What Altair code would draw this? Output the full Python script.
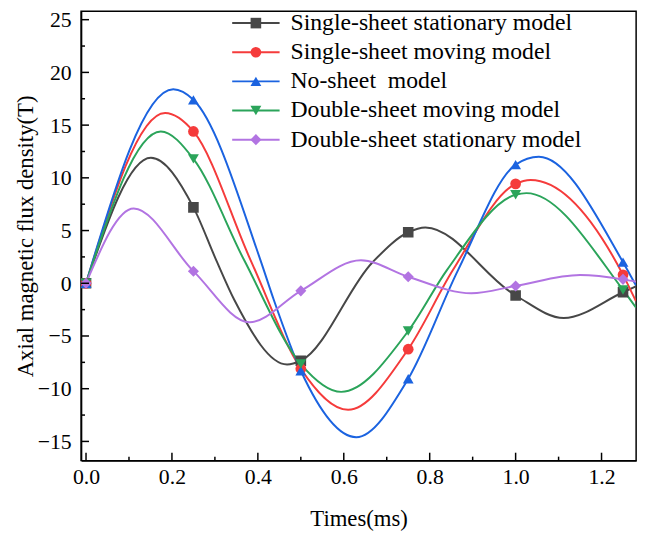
import altair as alt
import pandas as pd

FONT = "Liberation Serif"

names = ["Single-sheet stationary model", "Single-sheet moving model",
         "No-sheet\u00a0 model", "Double-sheet moving model",
         "Double-sheet stationary model"]
colors = ["#474747", "#f53b3b", "#1b63e0", "#2ba45a", "#b274e2"]
shapes = ["square", "circle", "triangle-up", "triangle-down", "diamond"]
sizes = [115, 125, 170, 170, 170]

# marker positions (ms) and values (T)
marker_t = [0, 0.25, 0.5, 0.75, 1.0, 1.25]
black_m = [0, 7.2, -7.35, 4.84, -1.16, -0.85]
red_m = [0, 14.4, -8.1, -6.25, 9.43, 0.8]
blue_m = [0, 17.4, -8.3, -9.06, 11.25, 2.0]
green_m = [0, 11.8, -7.66, -4.53, 8.4, -0.63]
purple_m = [0, 1.15, -0.72, 0.62, -0.25, 0.37]

# curve points (markers plus turning / crossing points)
black_t = [0, 0.151, 0.25, 0.303, 0.345, 0.468, 0.5, 0.667, 0.75, 0.79, 1.0, 1.112, 1.25, 1.28]
black_v = [0, 11.9, 7.2, 2.2, -1.56, -7.7, -7.35, 2.0, 4.84, 5.3, -1.16, -3.3, -0.85, -0.3]
red_t = [0, 0.184, 0.25, 0.383, 0.5, 0.61, 0.75, 0.854, 1.0, 1.035, 1.25, 1.28]
red_v = [0, 16.15, 14.4, 2.2, -8.1, -12.0, -6.25, 1.25, 9.43, 9.8, 0.8, -1.7]
blue_t = [0, 0.203, 0.25, 0.406, 0.437, 0.5, 0.629, 0.75, 0.866, 1.0, 1.054, 1.25, 1.28]
blue_v = [0, 18.4, 17.4, 2.2, -1.56, -8.3, -14.6, -9.06, 1.25, 11.25, 12.0, 2.0, -0.2]
green_t = [0, 0.174, 0.25, 0.368, 0.5, 0.594, 0.75, 0.84, 1.0, 1.025, 1.25, 1.28]
green_v = [0, 14.4, 11.8, 2.2, -7.66, -10.3, -4.53, 1.25, 8.4, 8.55, -0.63, -2.3]
purple_t = [0, 0.111, 0.25, 0.381, 0.5, 0.64, 0.75, 0.897, 1.0, 1.15, 1.25, 1.28]
purple_v = [0, 7.1, 1.15, -3.7, -0.72, 2.18, 0.62, -0.95, -0.25, 0.78, 0.37, 0.15]

x_major = [0, 0.2, 0.4, 0.6, 0.8, 1.0, 1.2]
x_minor = [0.1, 0.3, 0.5, 0.7, 0.9, 1.1]
y_major = [-15, -10, -5, 0, 5, 10, 15, 20, 25]
y_minor = [-12.5, -7.5, -2.5, 2.5, 7.5, 12.5, 17.5, 22.5]

curves = [(black_t, black_v), (red_t, red_v), (blue_t, blue_v), (green_t, green_v), (purple_t, purple_v)]
marks = [black_m, red_m, blue_m, green_m, purple_m]

line_rows = []
for i, (ts, vs) in enumerate(curves):
    for t, v in zip(ts, vs):
        line_rows.append({"series": names[i], "idx": i, "t": t, "v": v})
line_df = pd.DataFrame(line_rows)

pt_rows = []
for i, vs in enumerate(marks):
    for t, v in zip(marker_t, vs):
        pt_rows.append({"series": names[i], "idx": i, "t": t, "v": v})
pt_df = pd.DataFrame(pt_rows)

W, H = 562, 455
Y0, Y1 = -16.82, 25.8
xs = alt.Scale(domain=[-0.0115, 1.2805], nice=False, zero=False)
ys = alt.Scale(domain=[Y0, Y1], nice=False, zero=False)
cs = alt.Scale(domain=names, range=colors)
ss = alt.Scale(domain=names, range=shapes)
zs = alt.Scale(domain=names, range=sizes)

axis_style = dict(labelFont=FONT, labelFontSize=22, labelColor="black",
                  titleFont=FONT, titleFontSize=23, titleFontWeight="normal",
                  titleColor="black", domainColor="black", domainWidth=1.5,
                  tickSize=0, grid=False)
x_axis = alt.Axis(values=x_major, format=".1f", title="Times(ms)", labelPadding=6,
                  titlePadding=21, **axis_style)
y_axis = alt.Axis(values=y_major, format="d", title="Axial magnetic flux density(T)",
                  labelPadding=10, titlePadding=0, **axis_style)

lines = alt.Chart(line_df).mark_line(interpolate="monotone", strokeWidth=2, clip=True).encode(
    x=alt.X("t:Q", scale=xs, axis=x_axis),
    y=alt.Y("v:Q", scale=ys, axis=y_axis),
    color=alt.Color("series:N", scale=cs, legend=None),
    order=alt.Order("t:Q"),
)

points = alt.Chart(pt_df).mark_point(filled=True, opacity=1, clip=True).encode(
    x=alt.X("t:Q", scale=xs, axis=x_axis),
    y=alt.Y("v:Q", scale=ys, axis=y_axis),
    color=alt.Color("series:N", scale=cs, legend=None),
    shape=alt.Shape("series:N", scale=ss, legend=None),
    size=alt.Size("series:N", scale=zs, legend=None),
)

def xticks(vals, ln):
    return alt.Chart(pd.DataFrame({"t": vals})).mark_rule(color="black", strokeWidth=1.5).encode(
        x=alt.X("t:Q", scale=xs, axis=x_axis),
        y=alt.value(H), y2=alt.value(H - ln))

def yticks(vals, ln):
    return alt.Chart(pd.DataFrame({"v": vals})).mark_rule(color="black", strokeWidth=1.5).encode(
        y=alt.Y("v:Q", scale=ys, axis=y_axis),
        x=alt.value(0), x2=alt.value(ln))

# legend rows placed in the top-right corner of the plot (pixel rows 12..130)
leg_rows_px = [12, 41.5, 71, 100.5, 130]
leg_df = pd.DataFrame({"series": names,
                       "v": [Y1 - p * (Y1 - Y0) / H for p in leg_rows_px]})
leg_y = alt.Y("v:Q", scale=ys, axis=y_axis)
leg_line = alt.Chart(leg_df).mark_rule(strokeWidth=2).encode(
    x=alt.value(153), x2=alt.value(201), y=leg_y,
    color=alt.Color("series:N", scale=cs, legend=None))
leg_pt = alt.Chart(leg_df).mark_point(filled=True, opacity=1).encode(
    x=alt.value(177), y=leg_y,
    color=alt.Color("series:N", scale=cs, legend=None),
    shape=alt.Shape("series:N", scale=ss, legend=None),
    size=alt.Size("series:N", scale=zs, legend=None))
leg_txt = alt.Chart(leg_df).mark_text(align="left", baseline="middle", font=FONT, fontSize=24,
                                      color="black").encode(
    x=alt.value(212), y=leg_y, text="series:N")

chart = alt.layer(lines, points, xticks(x_major, 8), xticks(x_minor, 4),
                  yticks(y_major, 8), yticks(y_minor, 4),
                  leg_line, leg_pt, leg_txt).properties(
    width=W, height=H,
    padding={"left": 74, "top": 0, "right": 10, "bottom": 70},
    autosize=alt.AutoSizeParams(type="none"),
).configure_view(stroke="black", strokeWidth=1.5)

chart.save("out.html", embed_options={"renderer": "svg", "actions": False})
